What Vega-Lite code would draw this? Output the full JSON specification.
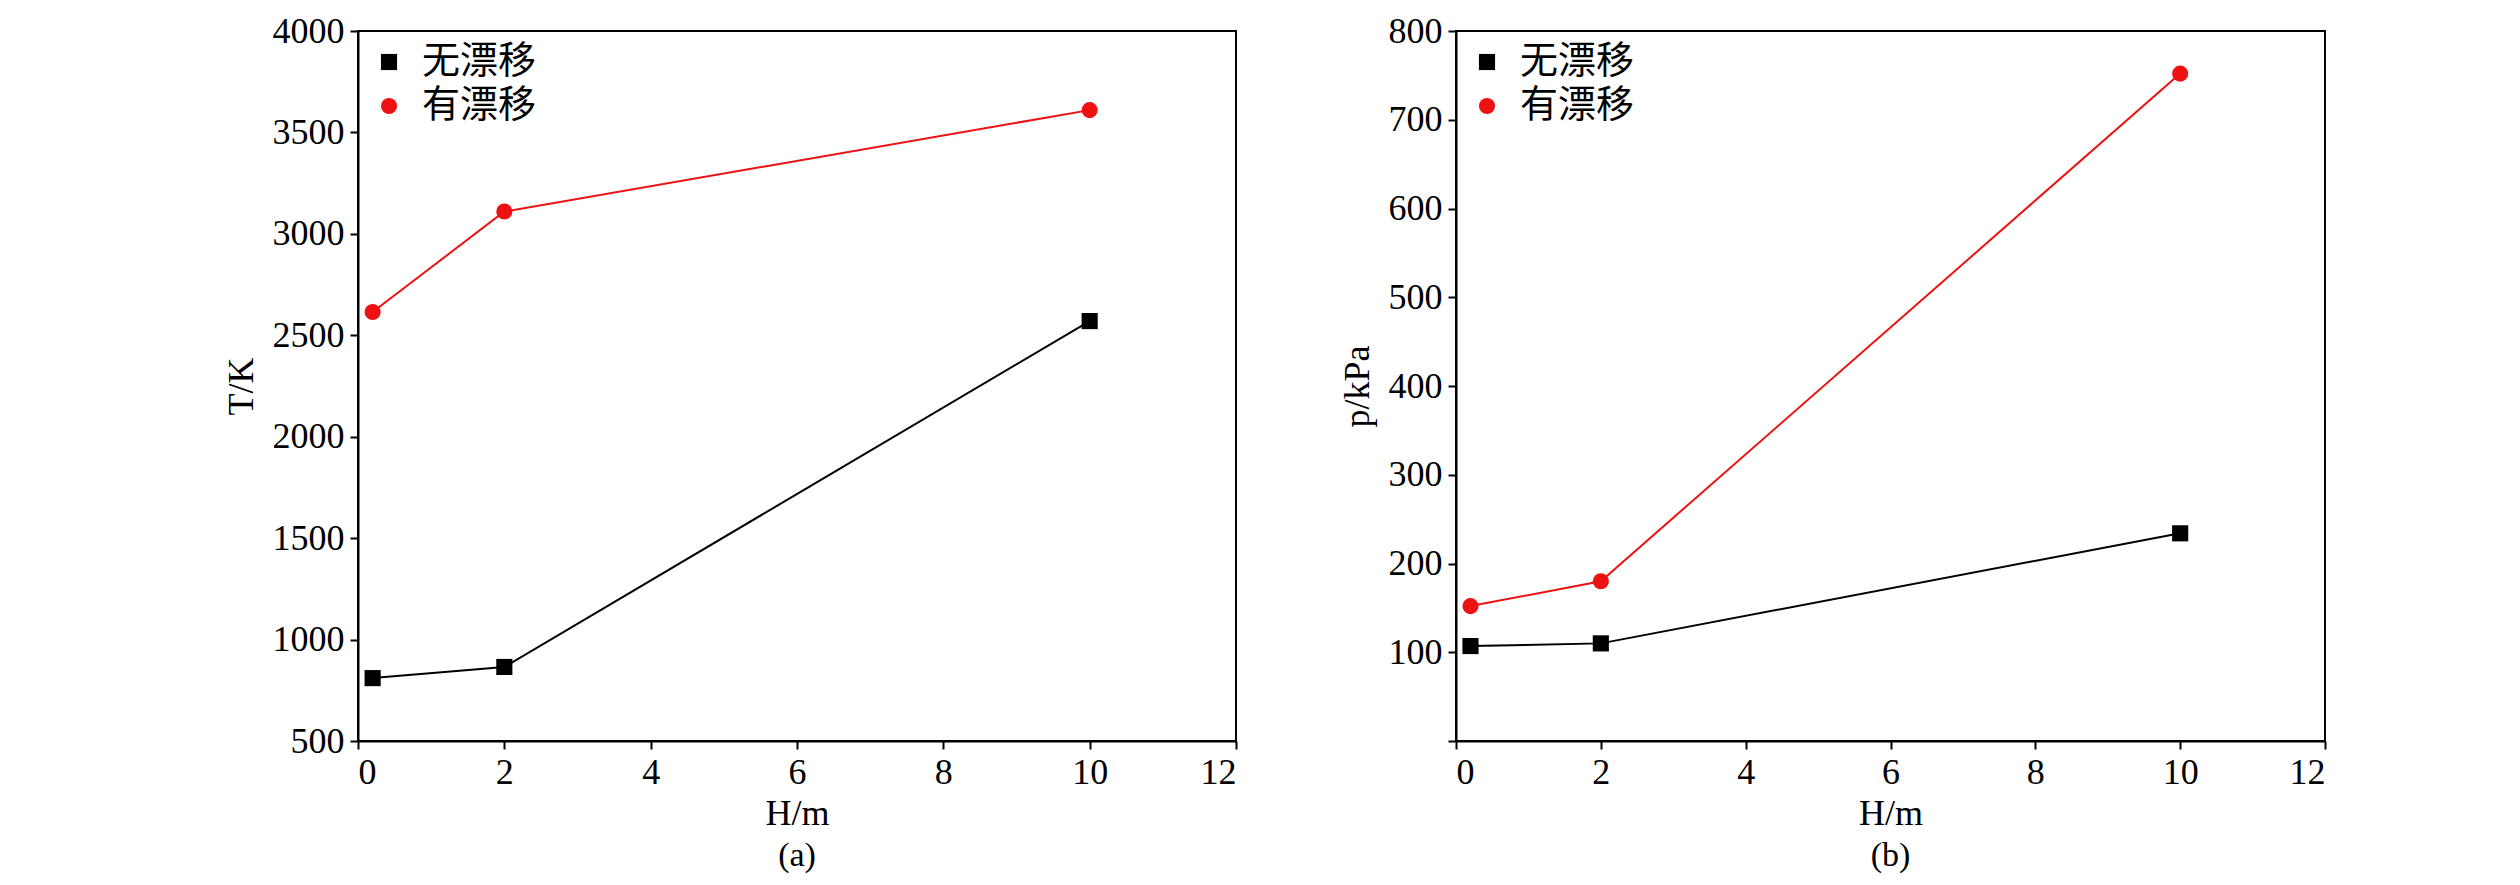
{
  "$schema": "https://vega.github.io/schema/vega-lite/v6.json",
  "background": "white",
  "padding": {"left": 222, "top": 12, "right": 5, "bottom": 5},
  "datasets": {
    "a": [
      {"H": 0.2, "v": 810, "s": "无漂移"}, {"H": 2, "v": 865, "s": "无漂移"}, {"H": 10, "v": 2570, "s": "无漂移"},
      {"H": 0.2, "v": 2615, "s": "有漂移"}, {"H": 2, "v": 3110, "s": "有漂移"}, {"H": 10, "v": 3610, "s": "有漂移"}
    ],
    "b": [
      {"H": 0.2, "v": 107, "s": "无漂移"}, {"H": 2, "v": 110, "s": "无漂移"}, {"H": 10, "v": 234, "s": "无漂移"},
      {"H": 0.2, "v": 152, "s": "有漂移"}, {"H": 2, "v": 180, "s": "有漂移"}, {"H": 10, "v": 752, "s": "有漂移"}
    ]
  },
  "spacing": 100,
  "hconcat": [
    {
      "width": 878, "height": 710,
      "data": {"name": "a"},
      "title": {"text": "(a)", "orient": "bottom", "font": "Liberation Serif", "fontSize": 34, "fontWeight": "normal", "offset": 8},
      "mark": {"type": "line", "strokeWidth": 2, "point": {"filled": true, "size": 260}},
      "encoding": {
        "x": {"field": "H", "type": "quantitative", "scale": {"domain": [0, 12]}, "axis": {"title": "H/m", "tickCount": 6, "format": "d"}},
        "y": {"field": "v", "type": "quantitative", "scale": {"domain": [500, 4000]}, "axis": {"title": "T/K", "format": "d", "values": [500, 1000, 1500, 2000, 2500, 3000, 3500, 4000]}},
        "color": {"field": "s", "type": "nominal", "scale": {"domain": ["无漂移", "有漂移"], "range": ["#000000", "#ee1111"]}, "legend": {"orient": "top-left", "title": null}},
        "shape": {"field": "s", "type": "nominal", "scale": {"domain": ["无漂移", "有漂移"], "range": ["square", "circle"]}, "legend": {"orient": "top-left", "title": null}}
      }
    },
    {
      "width": 869, "height": 710,
      "data": {"name": "b"},
      "title": {"text": "(b)", "orient": "bottom", "font": "Liberation Serif", "fontSize": 34, "fontWeight": "normal", "offset": 8},
      "mark": {"type": "line", "strokeWidth": 2, "point": {"filled": true, "size": 260}},
      "encoding": {
        "x": {"field": "H", "type": "quantitative", "scale": {"domain": [0, 12]}, "axis": {"title": "H/m", "tickCount": 6, "format": "d"}},
        "y": {"field": "v", "type": "quantitative", "scale": {"domain": [0, 800]}, "axis": {"title": "p/kPa", "format": "d", "values": [0, 100, 200, 300, 400, 500, 600, 700, 800], "labelExpr": "datum.value == 0 ? '' : datum.label"}},
        "color": {"field": "s", "type": "nominal", "scale": {"domain": ["无漂移", "有漂移"], "range": ["#000000", "#ee1111"]}, "legend": {"orient": "top-left", "title": null}},
        "shape": {"field": "s", "type": "nominal", "scale": {"domain": ["无漂移", "有漂移"], "range": ["square", "circle"]}, "legend": {"orient": "top-left", "title": null}}
      }
    }
  ],
  "resolve": {"scale": {"color": "independent", "shape": "independent"}, "legend": {"color": "independent", "shape": "independent"}},
  "config": {
    "view": {"stroke": "black", "strokeWidth": 2},
    "axis": {
      "grid": false, "domainColor": "black", "domainWidth": 2, "tickColor": "black", "tickWidth": 2, "tickSize": 8,
      "labelFont": "Liberation Serif", "labelFontSize": 36, "labelColor": "black", "labelPadding": 6,
      "titleFont": "Liberation Serif", "titleFontSize": 36, "titleFontWeight": "normal", "titleColor": "black"
    },
    "axisX": {"titlePadding": 6},
    "axisY": {"titlePadding": 12},
    "legend": {"labelFont": "Noto Sans CJK SC", "labelFontSize": 38, "labelColor": "black", "labelOffset": 14, "symbolSize": 260, "symbolStrokeWidth": 0, "rowPadding": 6, "offset": 12}
  }
}
